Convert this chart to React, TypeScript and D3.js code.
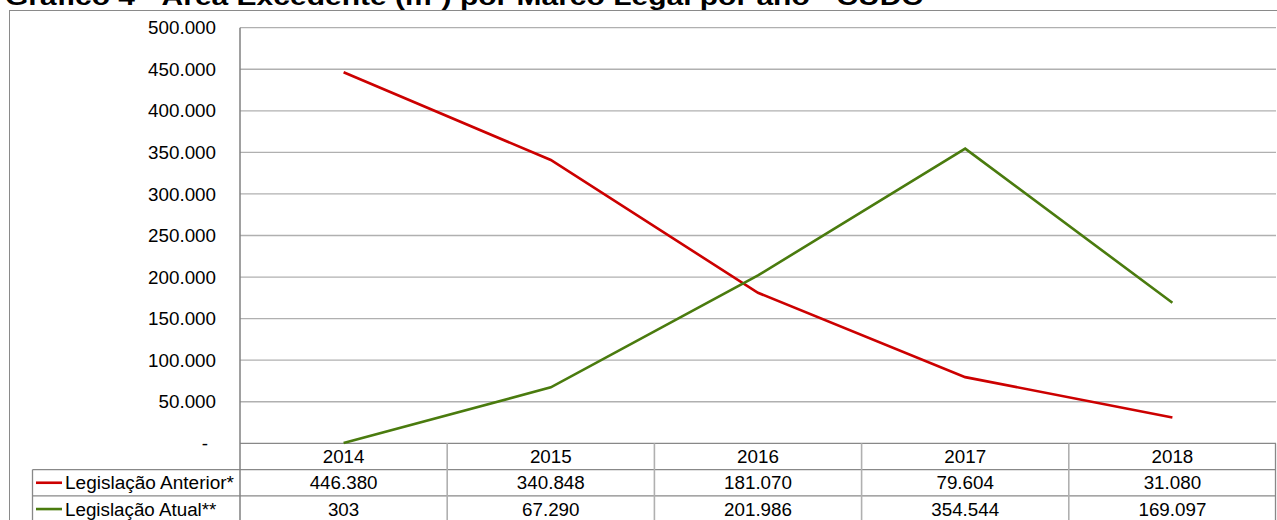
import React from "react";
import * as d3 from "d3";

const title = "Gráfico 4 - Área Excedente (m²) por Marco Legal por ano - CUDC";
const years = ["2014", "2015", "2016", "2017", "2018"];
const anterior = [446380, 340848, 181070, 79604, 31080];
const atual = [303, 67290, 201986, 354544, 169097];
const seriesNames = ["Legislação Anterior*", "Legislação Atual**"];
const seriesColors = ["#cc0000", "#4a7b0e"];
const yTicks = [0, 50000, 100000, 150000, 200000, 250000, 300000, 350000, 400000, 450000, 500000];

const fmt = (v: number) => {
  if (v === 0) return "-";
  const s = d3.format(",")(v);
  return s.replace(/,/g, ".");
};

export default function App() {
  const W = 1277, H = 520;
  const plotL = 240, plotR = 1276, plotT = 27.7, plotB = 443.3;
  const x = d3.scaleBand<string>().domain(years).range([plotL, plotR]);
  const y = d3.scaleLinear().domain([0, 500000]).range([plotB, plotT]);
  const cx = (d: string) => (x(d) as number) + x.bandwidth() / 2;
  const series = [anterior, atual];
  const line = d3.line<number>().x((_, i) => cx(years[i])).y((v) => y(v));
  const rowH = 26.3;
  const row1 = plotB + rowH; // top of first data row
  const font = "'Liberation Sans', Arial, sans-serif";
  const fs = 18.8;
  return (
    <svg width={W} height={H} style={{ position: "absolute", left: 0, top: 0, background: "#fff" }} fontFamily={font}>
      <text x={5} y={5} fontSize={24} fontWeight="bold" textLength={918} lengthAdjust="spacingAndGlyphs">{title}</text>
      <rect x={9.5} y={10.5} width={1280} height={530} fill="none" stroke="#8a8a8a" strokeWidth={1} />
      {yTicks.map((t) => (
        <g key={t}>
          {t > 0 && <line x1={plotL} x2={plotR} y1={y(t)} y2={y(t)} stroke="#b0b0b0" strokeWidth={1.3} />}
          <text x={t === 0 ? 208 : 216} y={y(t)} dy="0.35em" textAnchor="end" fontSize={fs}>{fmt(t)}</text>
        </g>
      ))}
      {/* table */}
      <line x1={plotL} x2={plotR} y1={plotB} y2={plotB} stroke="#888" strokeWidth={1.3} />
      <line x1={32.5} x2={plotR} y1={row1} y2={row1} stroke="#888" strokeWidth={1.3} />
      <line x1={32.5} x2={plotR} y1={row1 + rowH} y2={row1 + rowH} stroke="#888" strokeWidth={1.3} />
      <line x1={32.5} x2={32.5} y1={row1} y2={H} stroke="#888" strokeWidth={1.3} />
      <line x1={plotL} x2={plotL} y1={plotT} y2={H} stroke="#808080" strokeWidth={1.5} />
      {years.slice(1).map((yr) => (
        <line key={yr} x1={x(yr)} x2={x(yr)} y1={plotB} y2={H} stroke="#b0b0b0" strokeWidth={1.6} />
      ))}
      <line x1={plotR - 0.5} x2={plotR - 0.5} y1={plotB} y2={H} stroke="#888" strokeWidth={1.3} />
      {years.map((yr) => (
        <text key={yr} x={cx(yr)} y={plotB + rowH / 2} dy="0.35em" textAnchor="middle" fontSize={fs}>{yr}</text>
      ))}
      {series.map((s, si) => (
        <g key={si}>
          <line x1={36} x2={62} y1={row1 + rowH * si + rowH / 2} y2={row1 + rowH * si + rowH / 2} stroke={seriesColors[si]} strokeWidth={2.6} />
          <text x={65} y={row1 + rowH * si + rowH / 2} dy="0.35em" fontSize={fs} textLength={169} lengthAdjust="spacingAndGlyphs">{si === 0 ? seriesNames[si] : null}</text>
          {si === 1 && <text x={65} y={row1 + rowH * si + rowH / 2} dy="0.35em" fontSize={fs}>{seriesNames[si]}</text>}
          {s.map((v, i) => (
            <text key={i} x={cx(years[i])} y={row1 + rowH * si + rowH / 2} dy="0.35em" textAnchor="middle" fontSize={fs}>{fmt(v)}</text>
          ))}
        </g>
      ))}
      {series.map((s, si) => (
        <path key={si} d={line(s) as string} fill="none" stroke={seriesColors[si]} strokeWidth={2.6} />
      ))}
    </svg>
  );
}
